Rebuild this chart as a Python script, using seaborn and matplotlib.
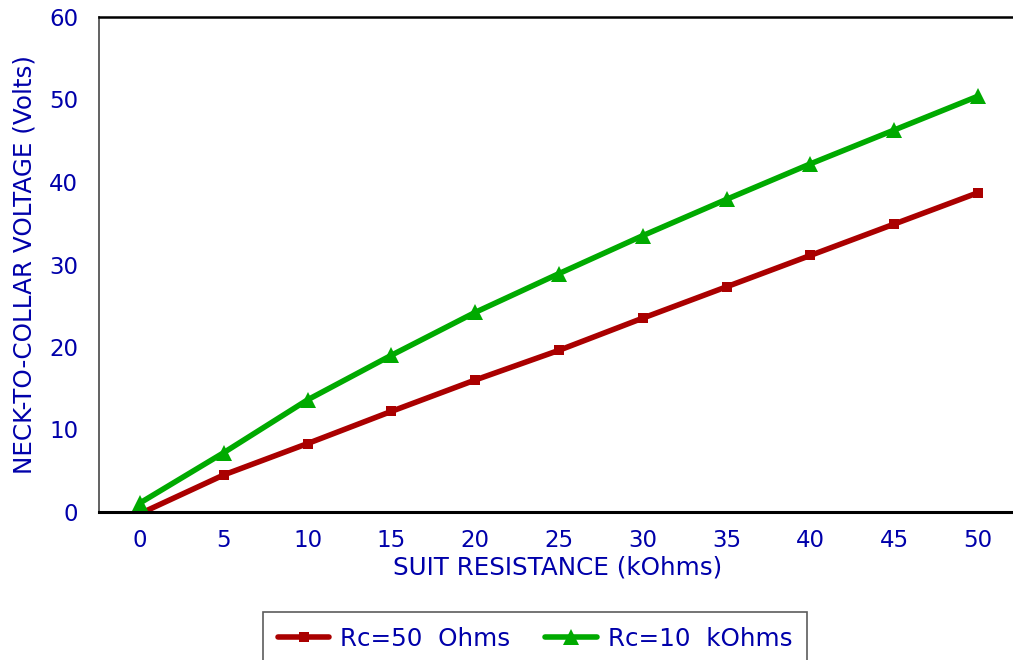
import matplotlib
matplotlib.use('Agg')
import pandas as pd
import matplotlib.pyplot as plt
import seaborn as sns

resistance = [0, 5, 10, 15, 20, 25, 30, 35, 40, 45, 50]
rc_50_ohms = [-0.2, 4.5, 8.3, 12.2, 16.0, 19.6, 23.5, 27.3, 31.1, 34.9, 38.7]
rc_10_kohms = [1.1, 7.2, 13.6, 19.0, 24.2, 28.9, 33.5, 37.9, 42.2, 46.3, 50.4]
series_names = ["Rc=50  Ohms", "Rc=10  kOhms"]

df = pd.DataFrame({
    "Resistance": resistance * 2,
    "Voltage": rc_50_ohms + rc_10_kohms,
    "Series": [series_names[0]] * len(resistance) + [series_names[1]] * len(resistance),
})

sns.set_style("white")
plt.rcParams['font.family'] = ['DejaVu Sans']

blue = "#0000AA"
fs = 16.5
lfs = 17.7
fig = plt.figure(figsize=(10.13, 6.60), dpi=100)
ax = fig.add_axes([99 / 1013, 1 - 512 / 660, 918 / 1013, 495 / 660])

sns.lineplot(data=df, x="Resistance", y="Voltage", hue="Series", style="Series",
             palette=["#AA0000", "#00AA00"], markers=["s", "^"], dashes=False,
             linewidth=4, markersize=10, markeredgewidth=0, ax=ax, legend=False)
for line, ms in zip(ax.lines, [7.5, 11]):
    line.set_markersize(ms)

ax.set_xlim(-2.45, 52.33)
ax.set_ylim(0, 60)
ax.set_xticks(resistance)
ax.set_yticks(range(0, 61, 10))
ax.tick_params(axis='both', colors="#555555", labelcolor=blue, labelsize=fs,
               direction='out', length=9, width=1.2)
ax.tick_params(axis='x', pad=3)
ax.tick_params(axis='y', pad=6)
ax.spines['right'].set_visible(False)
ax.spines['top'].set_color("black")
ax.spines['top'].set_linewidth(1.8)
ax.spines['bottom'].set_color("black")
ax.spines['bottom'].set_linewidth(2.2)
ax.spines['left'].set_color("#555555")
ax.spines['left'].set_linewidth(1.3)

ax.set_xlabel("SUIT RESISTANCE (kOhms)", color=blue, fontsize=lfs, labelpad=3)
ax.set_ylabel("NECK-TO-COLLAR VOLTAGE (Volts)", color=blue, fontsize=lfs, labelpad=9)

handles = [plt.Line2D([], [], color="#AA0000", lw=4, marker="s", ms=7.5, mew=0),
           plt.Line2D([], [], color="#00AA00", lw=4, marker="^", ms=11, mew=0)]
leg = fig.legend(handles, series_names, loc='upper center', ncol=2,
                 bbox_to_anchor=(535 / 1013, 1 - 612 / 660), fontsize=lfs,
                 frameon=True, fancybox=False, edgecolor="#333333",
                 borderpad=0.6, handlelength=2.1, handletextpad=0.45,
                 columnspacing=1.4, borderaxespad=0)
leg.get_frame().set_linewidth(1.2)
for t in leg.get_texts():
    t.set_color(blue)

fig.savefig("out.png", dpi=100)
